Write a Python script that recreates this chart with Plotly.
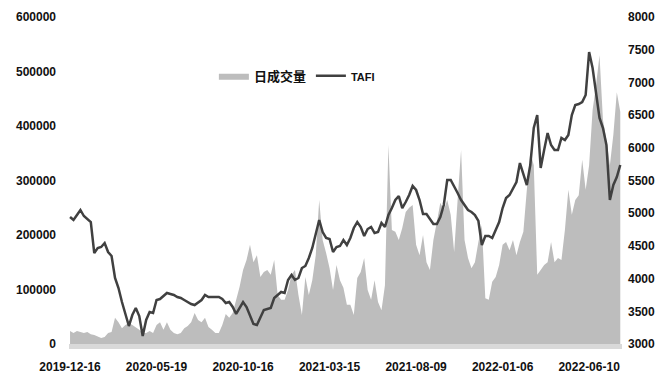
import plotly.graph_objects as go

# X-axis tick labels (trading-day axis, one label every 25 samples)
tick_labels = ["2019-12-16", "2020-05-19", "2020-10-16", "2021-03-15",
               "2021-08-09", "2022-01-06", "2022-06-10"]

# 日成交量 (daily volume, left axis)
volume = [
    24000, 20000, 24000, 22000, 20000, 22000, 18000, 16500, 13000, 11000,
    13000, 20000, 22000, 48000, 40000, 29000, 35000, 38500, 35000, 31000,
    26000, 20000, 20000, 24000, 20000, 35000, 40000, 26000, 40000, 26000,
    20000, 18000, 20000, 29000, 33000, 40000, 57000, 44000, 40000, 48000,
    31000, 26000, 20000, 20000, 35000, 55000, 48000, 57000, 81000, 105000,
    136000, 154000, 182000, 150000, 163000, 123000, 132000, 136000, 127000, 154000,
    90000, 81000, 81000, 99000, 127000, 136000, 90000, 53000, 123000, 90000,
    117000, 163000, 264000, 191000, 167000, 139000, 99000, 145000, 117000, 103000,
    72000, 72000, 53000, 121000, 132000, 158000, 99000, 81000, 117000, 77000,
    62000, 108000, 365000, 209000, 206000, 191000, 213000, 242000, 250000, 255000,
    182000, 163000, 200000, 150000, 136000, 191000, 224000, 259000, 246000, 264000,
    237000, 169000, 264000, 356000, 191000, 158000, 139000, 150000, 187000, 218000,
    84000, 81000, 114000, 123000, 145000, 182000, 187000, 172000, 191000, 163000,
    187000, 206000, 283000, 352000, 328000, 127000, 136000, 145000, 150000, 187000,
    150000, 158000, 154000, 209000, 283000, 237000, 264000, 273000, 338000, 283000,
    328000, 429000, 475000, 530000, 411000, 374000, 328000, 384000, 462000, 426000,
]

# TAFI index (right axis)
tafi = [
    4942, 4896, 4972, 5049, 4957, 4911, 4865, 4391, 4468, 4483,
    4544, 4407, 4346, 4009, 3856, 3642, 3443, 3275, 3443, 3550,
    3428, 3122, 3367, 3489, 3474, 3673, 3688, 3734, 3780, 3765,
    3749, 3719, 3703, 3673, 3642, 3612, 3596, 3642, 3673, 3749,
    3719, 3719, 3719, 3719, 3688, 3627, 3642, 3566, 3459, 3550,
    3642, 3566, 3443, 3306, 3291, 3413, 3520, 3535, 3550, 3703,
    3749, 3795, 3780, 3979, 4055, 3979, 4009, 4162, 4193, 4315,
    4468, 4667, 4896, 4712, 4621, 4605, 4407, 4483, 4498, 4590,
    4514, 4621, 4774, 4865, 4789, 4651, 4758, 4789, 4697, 4712,
    4850, 4789, 4972, 5079, 5202, 5263, 5079, 5171, 5278, 5416,
    5355, 5202, 4988, 4988, 4911, 4835, 4835, 4942, 5125, 5508,
    5508, 5416, 5309, 5202, 5125, 5049, 5018, 4972, 4881, 4514,
    4651, 4651, 4621, 4743, 4865, 5079, 5232, 5278, 5385, 5477,
    5767, 5615, 5431, 5737, 6303, 6501, 5691, 5966, 6226, 6043,
    5966, 5966, 6150, 6119, 6196, 6501, 6654, 6670, 6700, 6807,
    7465, 7220, 6807, 6456, 6303, 6043, 5202, 5431, 5553, 5737,
]

TICK_STEP = 25
x = list(range(len(volume)))
tickvals = [i * TICK_STEP for i in range(len(tick_labels))]

FONT = "Liberation Sans, Arial, Noto Sans CJK SC, sans-serif"
TICKFONT = dict(size=12, weight="bold", color="#111111")

fig = go.Figure()
fig.add_trace(go.Scatter(
    x=x, y=volume, name="日成交量", mode="lines",
    line=dict(width=0, color="#bdbdbd"),
    fill="tozeroy", fillcolor="#bdbdbd", yaxis="y",
))
fig.add_trace(go.Scatter(
    x=x, y=tafi, name='<span style="font-size:11px">TAFI</span>', mode="lines",
    line=dict(width=2.5, color="#404040"), yaxis="y2",
))

# page body has an 8px margin, so the figure is offset by 8px
fig.update_layout(
    width=663, height=374,
    margin=dict(l=61, r=49, t=9, b=38),
    paper_bgcolor="white", plot_bgcolor="white",
    font=dict(family=FONT, color="#111111"),
    xaxis=dict(
        range=[-0.3, len(volume) - 0.5],
        tickvals=tickvals, ticktext=tick_labels,
        showgrid=False, zeroline=False, showline=False,
        ticks="", ticklabelstandoff=14, automargin=False,
        tickfont=TICKFONT,
    ),
    yaxis=dict(
        range=[0, 600000], dtick=100000, tickformat="d",
        showgrid=False, zeroline=False, showline=False,
        ticks="", ticklabelstandoff=12, automargin=False,
        tickfont=TICKFONT,
    ),
    yaxis2=dict(
        range=[3000, 8000], dtick=500, overlaying="y", side="right",
        showgrid=False, zeroline=False, showline=False,
        ticks="", ticklabelstandoff=5, automargin=False,
        tickfont=TICKFONT,
    ),
    legend=dict(
        orientation="h", x=0.262, y=0.82, xanchor="left", yanchor="middle",
        font=dict(size=13, weight="bold", color="#111111"),
        bgcolor="rgba(0,0,0,0)", itemwidth=30,
    ),
    shapes=[dict(
        type="rect", xref="paper", yref="paper",
        x0=0, x1=1, y0=-5 / 327, y1=0,
        fillcolor="#d9d9d9", line=dict(width=0), layer="below",
    )],
)

fig.write_html("out.html")
